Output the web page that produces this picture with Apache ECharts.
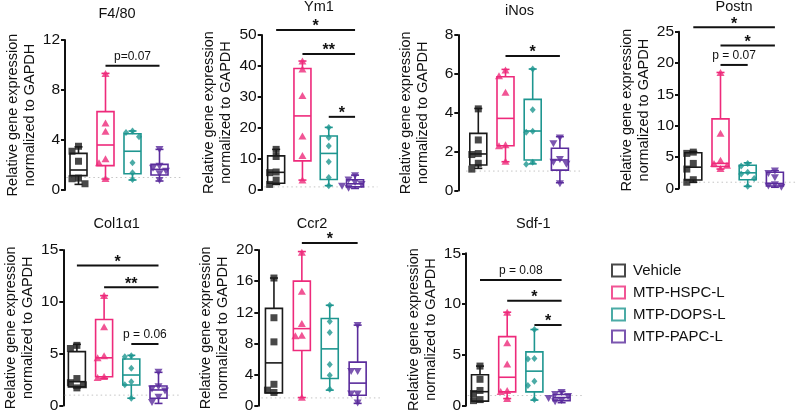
<!DOCTYPE html>
<html><head><meta charset="utf-8">
<script src="https://cdn.jsdelivr.net/npm/echarts@6/dist/echarts.min.js"></script>
<style>html,body{margin:0;padding:0;background:#fff}#c{width:798px;height:412px}</style>
</head><body><div id="c"></div>
<script>
// ---------------- DATA ----------------
const groups = ['Vehicle', 'MTP-HSPC-L', 'MTP-DOPS-L', 'MTP-PAPC-L'];
const titles = ['F4/80', 'Ym1', 'iNos', 'Postn', 'Col1\u03b11', 'Ccr2', 'Sdf-1'];
const yMax = [12, 50, 8, 25, 15, 20, 15];
const yStep = [4, 10, 2, 5, 5, 4, 5];
const baselineValue = 1;

// box stats per group: [min, q1, median, q3, max]
const boxF480 = [[0.45, 1.15, 1.6, 2.93, 3.45], [0.88, 1.95, 3.6, 6.27, 9.33], [0.8, 1.3, 3.1, 4.5, 4.72], [0.72, 1.2, 1.65, 2.05, 3.25]];
const boxYm1  = [[1.8, 2.2, 5.7, 11.0, 13.1], [3.2, 9.4, 23.9, 39.2, 41.6], [1.4, 3.4, 11.8, 17.4, 20.2], [0.5, 1.0, 2.0, 3.3, 4.8]];
const boxiNos = [[1.14, 1.31, 1.88, 2.94, 4.22], [1.48, 2.3, 3.71, 5.85, 6.23], [1.37, 1.57, 3.06, 4.69, 6.25], [0.4, 1.05, 1.57, 2.17, 2.77]];
const boxPostn = [[1.0, 1.35, 3.4, 5.7, 5.9], [3.1, 3.5, 4.0, 11.1, 18.5], [0.35, 1.4, 2.5, 3.7, 4.1], [0.2, 0.4, 0.8, 2.6, 2.85]];
const boxCol1 = [[1.7, 1.8, 2.3, 5.2, 5.9], [2.62, 2.78, 4.6, 8.3, 10.6], [0.7, 1.98, 2.94, 4.48, 4.84], [0.2, 0.7, 1.5, 1.88, 3.2]];
const boxCcr2 = [[1.6, 1.65, 5.5, 12.5, 16.4], [1.05, 7.1, 9.9, 16.0, 19.8], [2.0, 3.5, 7.3, 11.2, 12.9], [0.3, 1.35, 2.9, 5.6, 10.35]];
const boxSdf1 = [[0.4, 0.45, 1.38, 3.05, 3.9], [0.7, 1.36, 2.8, 6.8, 9.2], [0.55, 1.36, 3.4, 5.3, 7.5], [0.3, 0.5, 0.8, 1.1, 1.4]];

// individual points per group
const ptsF480 = [[3.5, 3.1, 2.3, 0.95, 0.9, 0.5], [9.33, 5.37, 4.7, 2.5, 2.18, 0.93], [4.72, 4.6, 4.26, 2.18, 1.38, 0.85], [3.25, 1.9, 1.75, 1.5, 1.3, 0.77]];
const ptsYm1  = [[13.1, 10.8, 5.8, 5.6, 3.2, 1.8], [41.6, 39.0, 30.5, 17.4, 11.1, 3.2], [20.2, 16.9, 14.2, 9.1, 4.0, 1.4], [4.6, 3.2, 2.4, 1.8, 1.2, 0.6]];
const ptsiNos = [[4.2, 2.6, 1.9, 1.85, 1.4, 1.1], [6.2, 5.9, 5.05, 2.35, 2.3, 1.5], [6.25, 4.15, 3.05, 3.0, 1.45, 1.35], [2.7, 2.4, 1.6, 1.45, 1.35, 0.35]];
const ptsPostn = [[5.8, 5.6, 4.0, 3.1, 1.4, 1.0], [18.5, 8.8, 4.5, 4.0, 3.7, 3.2], [4.0, 3.6, 2.6, 2.3, 1.6, 0.35], [2.8, 2.4, 1.7, 0.6, 0.4, 0.2]];
const ptsCol1 = [[5.8, 5.5, 2.6, 2.2, 2.0, 1.7], [10.6, 7.6, 4.8, 4.6, 2.8, 2.7], [4.8, 4.7, 3.6, 2.3, 2.0, 0.7], [3.2, 1.8, 1.6, 1.4, 0.8, 0.3]];
const ptsCcr2 = [[16.4, 11.3, 8.2, 2.75, 2.0, 1.7], [19.7, 14.7, 10.55, 9.05, 9.0, 1.1], [12.9, 10.8, 9.4, 5.3, 3.9, 2.1], [10.3, 4.4, 4.4, 1.5, 1.5, 0.35]];
const ptsSdf1 = [[3.9, 2.6, 1.5, 1.2, 0.6, 0.5], [9.2, 6.2, 4.1, 1.5, 1.4, 0.7], [7.5, 4.65, 4.6, 2.4, 2.0, 0.6], [1.3, 1.1, 0.9, 0.7, 0.5, 0.4]];

// significance brackets: [fromGroup, toGroup, height value, label]
const sigF480 = [[1, 3, 9.94, 'p=0.07']];
const sigYm1 = [[0, 3, 51.6, '*'], [1, 3, 43.9, '**'], [2, 3, 23.6, '*']];
const sigiNos = [[1, 3, 6.92, '*']];
const sigPostn = [[0, 3, 25.7, '*'], [1, 3, 22.8, '*'], [1, 2, 19.7, 'p = 0.07']];
const sigCol1 = [[0, 3, 13.5, '*'], [1, 3, 11.4, '**'], [2, 3, 5.93, 'p = 0.06']];
const sigCcr2 = [[1, 3, 20.9, '*']];
const sigSdf1 = [[0, 3, 12.37, 'p = 0.08'], [1, 3, 10.33, '*'], [2, 3, 7.94, '*']];

// ---------------- LAYOUT / STYLE ----------------
const boxes = [boxF480, boxYm1, boxiNos, boxPostn, boxCol1, boxCcr2, boxSdf1];
const points = [ptsF480, ptsYm1, ptsiNos, ptsPostn, ptsCol1, ptsCcr2, ptsSdf1];
const sigs = [sigF480, sigYm1, sigiNos, sigPostn, sigCol1, sigCcr2, sigSdf1];

const FONT = '"Liberation Sans", Arial, Helvetica, sans-serif';
const colors = ['#1a1a1a', '#ee2a7b', '#1e9690', '#5a2c9c'];
const symbols = ['rect', 'triangle', 'diamond', 'triangle'];
const symSize = [[7, 7], [8, 7], [6, 7], [8, 7]];
const symRot = [0, 0, 0, 180];

// panel geometry: axisX, gridLeft, band, top, y0, titleX, titleY
const panels = [
  [65, 65, 27, 40, 190, 117, 14],
  [261.7, 263, 26.3, 35, 190, 319, 7],
  [458.3, 464.7, 27.2, 35, 190.5, 519.5, 10.5],
  [679, 679.7, 27.2, 31.7, 188.5, 734, 6.5],
  [63.3, 63.3, 27.2, 250, 405.5, 116.7, 224],
  [258.3, 260, 27.9, 250, 405.7, 312, 224],
  [466, 466.4, 27.2, 253.3, 405.7, 533.3, 224]
];

const grid = [], xAxis = [], yAxis = [], series = [], graphic = [];

function beeswarm(vals, pxPerUnit) {
  const order = vals.map((v, i) => i).sort((a, b) => vals[b] - vals[a]);
  const placed = [];
  const off = new Array(vals.length).fill(0);
  const cands = [0, -6.5, 6.5, -13, 13];
  order.forEach(i => {
    const y = vals[i] * pxPerUnit;
    for (const dx of cands) {
      const hit = placed.some(p => Math.abs(p.y - y) < 6.5 && Math.abs(p.x - dx) < 6.5);
      if (!hit) { off[i] = dx; placed.push({x: dx, y: y}); break; }
    }
  });
  return off;
}

panels.forEach((p, k) => {
  const [axisX, left, band, top, y0, tx, ty] = p;
  grid.push({left: left, top: top, width: band * 4, height: y0 - top, outerBoundsMode: 'none'});
  xAxis.push({type: 'category', gridIndex: k, data: groups, show: false, boundaryGap: true});
  yAxis.push({
    type: 'value', gridIndex: k, min: 0, max: yMax[k], interval: yStep[k],
    offset: left - axisX,
    axisLine: {show: true, lineStyle: {color: '#111', width: 2}},
    axisTick: {show: true, length: 4, lineStyle: {color: '#111', width: 2}},
    axisLabel: {fontSize: 15.5, color: '#111', margin: 5, fontFamily: FONT},
    splitLine: {show: false},
    name: 'Relative gene expression\nnormalized to GAPDH',
    nameLocation: 'middle', nameGap: 27, nameRotate: 90,
    nameTextStyle: {fontSize: 14.5, lineHeight: 17, color: '#111', fontFamily: FONT}
  });
  graphic.push({type: 'text', x: tx, y: ty, style: {text: titles[k], align: 'center', verticalAlign: 'middle', font: '14.5px ' + FONT, fill: '#111'}});

  // baseline (value 1) dotted
  series.push({
    type: 'custom', xAxisIndex: k, yAxisIndex: k, z: 1, clip: false, silent: true,
    data: [[0, baselineValue]],
    encode: {x: 0, y: 1},
    renderItem: function (params, api) {
      const c0 = api.coord([0, api.value(1)]);
      const c1 = api.coord([1, api.value(1)]);
      const bw = c1[0] - c0[0];
      return {type: 'line', shape: {x1: c0[0] - bw * 0.45, y1: c0[1], x2: c0[0] + bw * 3.85, y2: c0[1]},
        style: {stroke: '#c4c4c4', lineWidth: 1, lineDash: [1.5, 3]}};
    }
  });

  // boxes
  series.push({
    type: 'custom', xAxisIndex: k, yAxisIndex: k, z: 2, silent: true,
    data: boxes[k].map((b, i) => [i].concat(b)),
    encode: {x: 0, y: [1, 2, 3, 4, 5]},
    renderItem: function (params, api) {
      const i = api.value(0);
      const col = colors[i];
      const yv = j => api.coord([i, api.value(j)])[1];
      const cx = api.coord([i, 0])[0];
      const yMin = yv(1), yQ1 = yv(2), yMed = yv(3), yQ3 = yv(4), yMaxP = yv(5);
      const hw = 8.5, cw = 4, lw = 1.6;
      const st = {stroke: col, lineWidth: lw};
      return {type: 'group', children: [
        {type: 'line', shape: {x1: cx, y1: yQ3, x2: cx, y2: yMaxP}, style: st},
        {type: 'line', shape: {x1: cx, y1: yQ1, x2: cx, y2: yMin}, style: st},
        {type: 'line', shape: {x1: cx - cw, y1: yMaxP, x2: cx + cw, y2: yMaxP}, style: st},
        {type: 'line', shape: {x1: cx - cw, y1: yMin, x2: cx + cw, y2: yMin}, style: st},
        {type: 'rect', shape: {x: cx - hw, y: yQ3, width: hw * 2, height: yQ1 - yQ3}, style: {fill: '#fff', stroke: col, lineWidth: lw}},
        {type: 'line', shape: {x1: cx - hw, y1: yMed, x2: cx + hw, y2: yMed}, style: st}
      ]};
    }
  });

  // points
  const ppu = (y0 - top) / yMax[k];
  const pdata = [];
  points[k].forEach((vals, g) => {
    const offs = beeswarm(vals, ppu);
    vals.forEach((v, j) => {
      pdata.push({value: [g, v], symbol: symbols[g], symbolSize: symSize[g], symbolRotate: symRot[g],
        symbolOffset: [offs[j], 0], itemStyle: {color: colors[g]}});
    });
  });
  series.push({type: 'scatter', xAxisIndex: k, yAxisIndex: k, z: 3, silent: true, data: pdata});

  // significance brackets
  const sg = sigs[k];
  series.push({
    type: 'custom', xAxisIndex: k, yAxisIndex: k, z: 4, clip: false, silent: true,
    data: sg.map(s => [s[0], s[2], s[1]]),
    encode: {x: 0, y: 1},
    renderItem: function (params, api) {
      const s = sg[params.dataIndex];
      const p1 = api.coord([s[0], s[2]]);
      const p2 = api.coord([s[1], s[2]]);
      const star = s[3].charAt(0) === '*';
      return {type: 'group', children: [
        {type: 'line', shape: {x1: p1[0], y1: p1[1], x2: p2[0], y2: p2[1]}, style: {stroke: '#111', lineWidth: 2}},
        {type: 'text', x: (p1[0] + p2[0]) / 2, y: star ? p1[1] - 3 : p1[1] - 3,
          style: {text: s[3], align: 'center', verticalAlign: star ? 'middle' : 'bottom',
            font: star ? 'bold 16px ' + FONT : '12px ' + FONT, fill: '#111'}}
      ]};
    }
  });
});

// legend placeholder series (no data)
groups.forEach((g, i) => {
  series.push({type: 'scatter', name: g, xAxisIndex: 0, yAxisIndex: 0, data: [],
    itemStyle: {color: '#fff', borderColor: colors[i], borderWidth: 2}});
});

const chart = echarts.init(document.getElementById('c'), null, {renderer: 'canvas'});
chart.setOption({
  animation: false,
  backgroundColor: '#fff',
  grid: grid, xAxis: xAxis, yAxis: yAxis, series: series, graphic: graphic,
  legend: {
    orient: 'vertical', left: 606, top: 257, selectedMode: false,
    itemWidth: 13, itemHeight: 12, itemGap: 5,
    textStyle: {fontSize: 15, color: '#111', fontFamily: FONT, lineHeight: 17, padding: [0, 0, 0, 3]},
    data: groups.map((g, i) => ({name: g, icon: 'rect', itemStyle: {color: '#fff', borderColor: colors[i], borderWidth: 2}}))
  }
});
</script></body></html>
